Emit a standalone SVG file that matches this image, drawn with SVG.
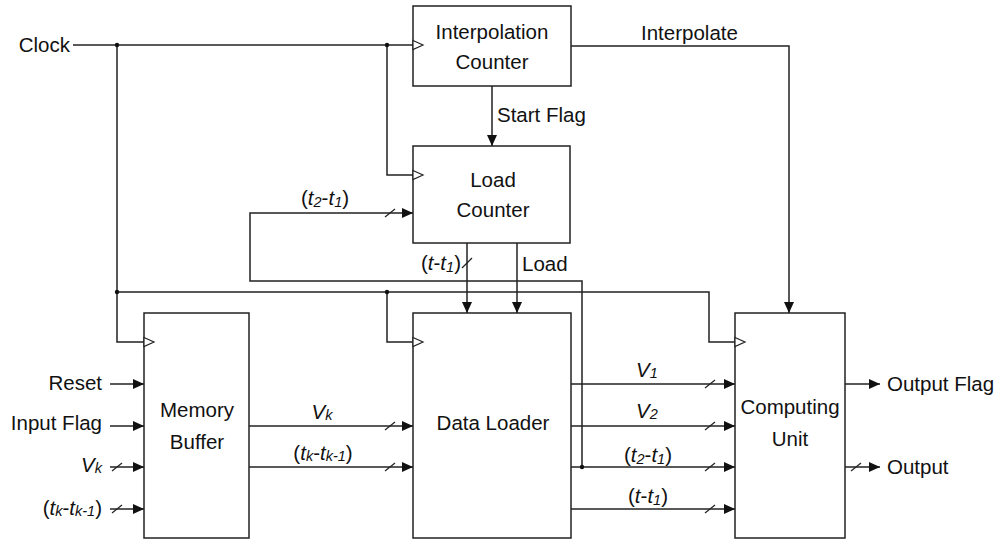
<svg xmlns="http://www.w3.org/2000/svg" width="998" height="542" viewBox="0 0 998 542">
<defs>
<style>
.box{fill:#fff;stroke:#222;stroke-width:1.5}
.ln{fill:none;stroke:#222;stroke-width:1.5}
.arr{marker-end:url(#ah)}
.clk{fill:#fff;stroke:#222;stroke-width:1.2}
.sl{stroke:#222;stroke-width:1.2}
.dot{fill:#111}
text{font-family:"Liberation Sans",Arial,sans-serif;font-size:20.5px;fill:#111}
.c{text-anchor:middle}
.e{text-anchor:end}
.i{font-style:italic}
.s{font-size:14.5px}
</style>
<marker id="ah" markerUnits="userSpaceOnUse" markerWidth="11" markerHeight="10" refX="11" refY="5" orient="auto">
<path d="M0,0 L11,5 L0,10 z" fill="#111"/>
</marker>
</defs>
<rect width="998" height="542" fill="#fff"/>

<g id="connectors">
<path class="ln" d="M73,45 H413"/>
<path class="ln" d="M117,45 V342 H144"/>
<path class="ln" d="M387,45 V175 H413"/>
<path class="ln" d="M117,292 H709 V342 H735"/>
<path class="ln" d="M387,292 V342 H413"/>
<path class="ln arr" d="M571,46 H789 V313"/>
<path class="ln arr" d="M492,86 V146"/>
<path class="ln arr" d="M582,467 V281 H250 V213 H413"/>
<path class="ln arr" d="M467,243 V313"/>
<path class="ln arr" d="M517,243 V313"/>
<path class="ln arr" d="M110,384 H144"/>
<path class="ln arr" d="M110,426 H144"/>
<path class="ln arr" d="M110,467 H144"/>
<path class="ln arr" d="M110,509 H144"/>
<path class="ln arr" d="M249,426 H413"/>
<path class="ln arr" d="M249,467 H413"/>
<path class="ln arr" d="M571,384 H735"/>
<path class="ln arr" d="M571,426 H735"/>
<path class="ln arr" d="M571,467 H735"/>
<path class="ln arr" d="M571,509 H735"/>
<path class="ln arr" d="M845,384 H880"/>
<path class="ln arr" d="M845,467 H880"/>
<g class="sl">
<line x1="385" y1="217" x2="395" y2="209"/>
<line x1="462" y1="268" x2="472" y2="258"/>
<line x1="112" y1="471" x2="122" y2="463"/>
<line x1="112" y1="513" x2="122" y2="505"/>
<line x1="385" y1="430" x2="395" y2="422"/>
<line x1="385" y1="471" x2="395" y2="463"/>
<line x1="705" y1="388" x2="715" y2="380"/>
<line x1="705" y1="430" x2="715" y2="422"/>
<line x1="705" y1="471" x2="715" y2="463"/>
<line x1="705" y1="513" x2="715" y2="505"/>
<line x1="851" y1="471" x2="861" y2="463"/>
</g>
<circle class="dot" cx="117" cy="45" r="2.2"/>
<circle class="dot" cx="387" cy="45" r="2.2"/>
<circle class="dot" cx="117" cy="292" r="2.2"/>
<circle class="dot" cx="387" cy="292" r="2.2"/>
<circle class="dot" cx="582" cy="467" r="2.2"/>
<text x="70" y="52" class="e">Clock</text>
<text x="641" y="40">Interpolate</text>
<text x="497" y="122">Start Flag</text>
<text x="301" y="205">(<tspan class="i">t</tspan><tspan class="i s" dy="2">2</tspan><tspan dy="-2">-</tspan><tspan class="i">t</tspan><tspan class="i s" dy="2">1</tspan><tspan dy="-2">)</tspan></text>
<text x="421" y="270">(<tspan class="i">t</tspan>-<tspan class="i">t</tspan><tspan class="i s" dy="2">1</tspan><tspan dy="-2">)</tspan></text>
<text x="522" y="271">Load</text>
<text x="102" y="390" class="e">Reset</text>
<text x="102" y="430" class="e">Input Flag</text>
<text x="102" y="472" class="e"><tspan class="i">V</tspan><tspan class="i s" dy="1">k</tspan></text>
<text x="102" y="515" class="e">(<tspan class="i">t</tspan><tspan class="i s" dy="1">k</tspan><tspan dy="-1">-</tspan><tspan class="i">t</tspan><tspan class="i s" dy="1">k-1</tspan><tspan dy="-1">)</tspan></text>
<text x="322" y="419" class="c"><tspan class="i">V</tspan><tspan class="i s" dy="1">k</tspan></text>
<text x="323" y="460" class="c">(<tspan class="i">t</tspan><tspan class="i s" dy="1">k</tspan><tspan dy="-1">-</tspan><tspan class="i">t</tspan><tspan class="i s" dy="1">k-1</tspan><tspan dy="-1">)</tspan></text>
<text x="647" y="377" class="c"><tspan class="i">V</tspan><tspan class="i s" dy="1">1</tspan></text>
<text x="647" y="418" class="c"><tspan class="i">V</tspan><tspan class="i s" dy="1">2</tspan></text>
<text x="648" y="462" class="c">(<tspan class="i">t</tspan><tspan class="i s" dy="2">2</tspan><tspan dy="-2">-</tspan><tspan class="i">t</tspan><tspan class="i s" dy="2">1</tspan><tspan dy="-2">)</tspan></text>
<text x="648" y="503" class="c">(<tspan class="i">t</tspan>-<tspan class="i">t</tspan><tspan class="i s" dy="2">1</tspan><tspan dy="-2">)</tspan></text>
<text x="887" y="391">Output Flag</text>
<text x="887" y="474">Output</text>
</g>

<g id="interpolation-counter">
<rect class="box" x="413" y="6" width="158" height="80"/>
<polygon class="clk" points="413,40.5 423,45 413,49.5"/>
<text x="492" y="39" class="c">Interpolation</text>
<text x="492" y="69" class="c">Counter</text>
</g>

<g id="load-counter">
<rect class="box" x="413" y="146" width="157" height="97"/>
<polygon class="clk" points="413,170.5 423,175 413,179.5"/>
<text x="493" y="187" class="c">Load</text>
<text x="493" y="217" class="c">Counter</text>
</g>

<g id="memory-buffer">
<rect class="box" x="144" y="313" width="105" height="225"/>
<polygon class="clk" points="144,337.5 154,342 144,346.5"/>
<text x="197" y="417" class="c">Memory</text>
<text x="197" y="449" class="c">Buffer</text>
</g>

<g id="data-loader">
<rect class="box" x="413" y="313" width="158" height="225"/>
<polygon class="clk" points="413,337.5 423,342 413,346.5"/>
<text x="493" y="430" class="c">Data Loader</text>
</g>

<g id="computing-unit">
<rect class="box" x="735" y="313" width="110" height="225"/>
<polygon class="clk" points="735,337.5 745,342 735,346.5"/>
<text x="790" y="414" class="c">Computing</text>
<text x="790" y="446" class="c">Unit</text>
</g>
</svg>
